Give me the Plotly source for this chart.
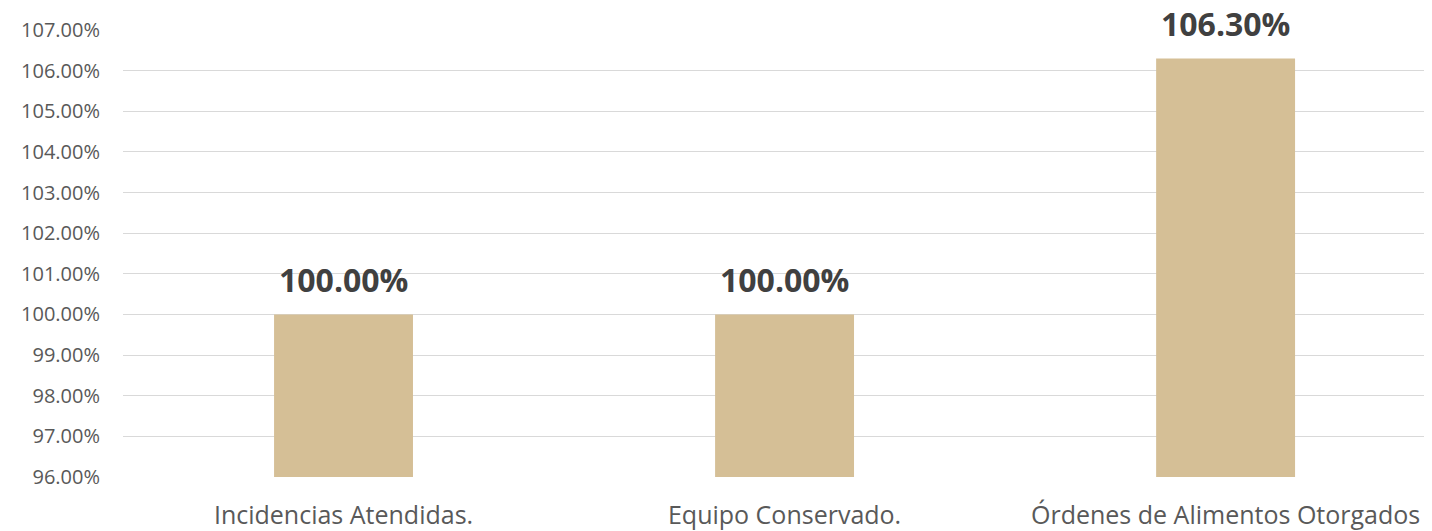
import plotly.graph_objects as go

categories = ["Incidencias Atendidas.", "Equipo Conservado.", "Órdenes de Alimentos Otorgados"]
values = [100.00, 100.00, 106.30]
y_ticks = [96, 97, 98, 99, 100, 101, 102, 103, 104, 105, 106, 107]
axis_floor = 96

fig = go.Figure(go.Bar(
    x=[0, 1, 2],
    y=[v - axis_floor for v in values],
    base=axis_floor,
    marker=dict(color="#D5BF96", line=dict(width=0)),
    width=0.315,
    hoverinfo="skip",
))

for i, v in enumerate(values):
    fig.add_annotation(
        x=i, y=v, text="<b>{:.2f}%</b>".format(v),
        showarrow=False, yanchor="bottom", yshift=11,
        font=dict(family="Open Sans", size=32, color="#404040"),
    )

# the page body keeps an 8px margin, so margins are trimmed to match
fig.update_layout(
    width=1432, height=531,
    margin=dict(l=115, r=8, t=18, b=61),
    plot_bgcolor="white", paper_bgcolor="white",
    showlegend=False,
    xaxis=dict(
        range=[-0.5, 2.468],
        tickvals=[0, 1, 2], ticktext=categories,
        tickfont=dict(family="Open Sans", size=25, color="#595959"),
        showgrid=False, zeroline=False,
        showline=False, ticks="", ticklabelstandoff=21,
    ),
    yaxis=dict(
        range=[96, 107],
        tickvals=y_ticks,
        ticktext=["{:.2f}%".format(t) for t in y_ticks],
        tickfont=dict(family="Open Sans", size=20, color="#595959"),
        gridcolor="#D9D9D9", gridwidth=1,
        zeroline=False, showline=False, ticks="",
        ticklabelstandoff=22,
    ),
)

fig.write_html("out.html")
